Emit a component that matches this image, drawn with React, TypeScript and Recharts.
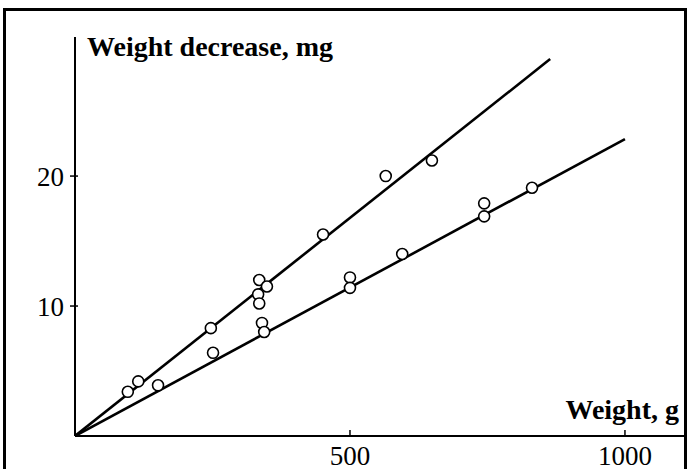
import { ComposedChart, Scatter, XAxis, YAxis } from 'recharts';

// weight (g) vs weight decrease (mg), two groups
const upperX = [96, 115, 247, 335, 349, 333, 335, 451, 565, 649];
const upperY = [3.4, 4.2, 8.3, 12.0, 11.5, 10.9, 10.2, 15.5, 20.0, 21.2];
const lowerX = [151, 251, 340, 344, 500, 500, 595, 744, 744, 831];
const lowerY = [3.9, 6.4, 8.7, 8.0, 12.2, 11.4, 14.0, 17.9, 16.9, 19.1];

// fitted lines: start and end points
const upperFitX = [0, 864];
const upperFitY = [0, 29.0];
const lowerFitX = [0, 1000];
const lowerFitY = [0, 22.85];

const xTicks = [500, 1000];
const yTicks = [10, 20];

const zip = (xs: number[], ys: number[]) => xs.map((x, i) => ({ x, y: ys[i] }));

const upperPts = zip(upperX, upperY);
const lowerPts = zip(lowerX, lowerY);
const upperFit = zip(upperFitX, upperFitY);
const lowerFit = zip(lowerFitX, lowerFitY);

const FONT = '"Liberation Serif", "Times New Roman", serif';

const Dot = (props: any) => {
  const { cx, cy } = props;
  if (cx == null || cy == null) return null;
  return <circle cx={cx} cy={cy} r={5.5} fill="#fff" stroke="#000" strokeWidth={1.6} />;
};

const NoDot = () => null;

const XTick = (props: any) => {
  const { x, y, payload } = props;
  return (
    <g>
      <line x1={x} x2={x} y1={y - 6} y2={y} stroke="#000" strokeWidth={1.5} />
      <text x={x} y={y + 29} textAnchor="middle" fontFamily={FONT} fontSize={27} fill="#000">
        {payload.value}
      </text>
    </g>
  );
};

const YTick = (props: any) => {
  const { x, y, payload } = props;
  return (
    <g>
      <line x1={x - 5} x2={x + 3} y1={y} y2={y} stroke="#000" strokeWidth={1.5} />
      <text x={x - 11} y={y + 10} textAnchor="end" fontFamily={FONT} fontSize={27} fill="#000">
        {payload.value}
      </text>
    </g>
  );
};

export default function App() {
  return (
    <div style={{ position: 'fixed', left: 0, top: 0, width: 688, height: 469, overflow: 'hidden', background: '#fff' }}>
      <div
        style={{
          position: 'absolute',
          left: 3,
          top: 8,
          width: 684,
          height: 520,
          border: '3px solid #000',
          boxSizing: 'border-box',
        }}
      />
      <div style={{ position: 'absolute', left: 0, top: 0 }}>
        <ComposedChart width={688} height={469} margin={{ top: 37, right: 2, bottom: 0, left: 0 }}>
          <XAxis
            type="number"
            dataKey="x"
            height={33}
            domain={[0, 1111]}
            ticks={xTicks}
            tickSize={0}
            tickMargin={0}
            tick={<XTick />}
            axisLine={{ stroke: '#000', strokeWidth: 2 }}
            tickLine={false}
            allowDataOverflow
          />
          <YAxis
            type="number"
            dataKey="y"
            width={75}
            domain={[0, 30.7]}
            ticks={yTicks}
            tickSize={0}
            tickMargin={0}
            tick={<YTick />}
            axisLine={{ stroke: '#000', strokeWidth: 2 }}
            tickLine={false}
            allowDataOverflow
          />
          <Scatter data={upperFit} line={{ stroke: '#000', strokeWidth: 2.6 }} shape={<NoDot />} isAnimationActive={false} />
          <Scatter data={lowerFit} line={{ stroke: '#000', strokeWidth: 2.6 }} shape={<NoDot />} isAnimationActive={false} />
          <Scatter data={upperPts} shape={<Dot />} isAnimationActive={false} />
          <Scatter data={lowerPts} shape={<Dot />} isAnimationActive={false} />
        </ComposedChart>
      </div>
      <div
        style={{
          position: 'absolute',
          left: 87,
          top: 31,
          fontFamily: FONT,
          fontWeight: 'bold',
          fontSize: 28,
          lineHeight: '32px',
          whiteSpace: 'nowrap',
        }}
      >
        Weight decrease, mg
      </div>
      <div
        style={{
          position: 'absolute',
          right: 9,
          top: 394,
          fontFamily: FONT,
          fontWeight: 'bold',
          fontSize: 28,
          lineHeight: '32px',
          whiteSpace: 'nowrap',
        }}
      >
        Weight, g
      </div>
    </div>
  );
}
